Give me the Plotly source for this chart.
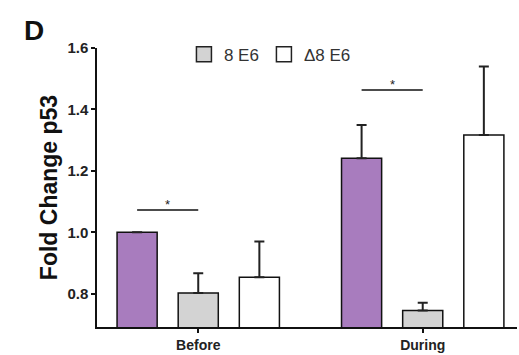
import plotly.graph_objects as go

# Data
groups = ["Before", "During"]
series_names = ["Control", "8 E6", "\u03948 E6"]
means_control = [1.00, 1.241]
err_control = [0.0, 0.108]
means_8e6 = [0.803, 0.746]
err_8e6 = [0.064, 0.025]
means_d8e6 = [0.854, 1.317]
err_d8e6 = [0.116, 0.223]
sig_heights = [1.073, 1.463]

fills = ["#a87cbe", "#d3d3d3", "#ffffff"]
means = [means_control, means_8e6, means_d8e6]
errs = [err_control, err_8e6, err_d8e6]

BARGAP = 0.183
BARGROUPGAP = 0.344
slot = (1 - BARGAP) / 3  # width of one trace slot within a group

FONT = "Liberation Sans, Arial, sans-serif"

fig = go.Figure()
for name, fill, m, e in zip(series_names, fills, means, errs):
    fig.add_trace(go.Bar(
        x=groups, y=m, name=name,
        marker=dict(color=fill, line=dict(color="#111111", width=1.5)),
        error_y=dict(type="data", array=e, arrayminus=[0] * len(e), symmetric=False,
                     color="#222222", thickness=2, width=5),
        showlegend=False,
    ))

# Legend entries (square swatches)
for name, fill in zip(series_names[1:], fills[1:]):
    fig.add_trace(go.Scatter(
        x=[None], y=[None], mode="markers", name=name,
        marker=dict(symbol="square", size=15, color=fill,
                    line=dict(color="#222222", width=1.5)),
        showlegend=True,
    ))

# Significance bars between control and 8 E6 in each group
for i, h in enumerate(sig_heights):
    fig.add_shape(type="line", xref="x", yref="y",
                  x0=i - slot, x1=i, y0=h, y1=h,
                  line=dict(color="#111111", width=1.5))
    fig.add_annotation(x=i - slot / 2, y=h, text="*", showarrow=False,
                       yanchor="bottom", yshift=-4,
                       font=dict(family=FONT, size=13, color="#222222"))

fig.add_annotation(xref="paper", yref="paper", x=-0.178, y=1.063,
                   xanchor="left", yanchor="middle", text="<b>D</b>",
                   showarrow=False, font=dict(family=FONT, size=28, color="#111111"))

fig.update_layout(
    width=519, height=355,
    margin=dict(l=97, r=2, t=48, b=21),
    paper_bgcolor="white", plot_bgcolor="white",
    barmode="group", bargap=BARGAP, bargroupgap=BARGROUPGAP,
    font=dict(family=FONT, color="#222222"),
    legend=dict(orientation="h", x=0.207, y=0.976, xanchor="left", yanchor="middle",
                font=dict(family=FONT, size=17, color="#333333"),
                itemsizing="trace", bgcolor="rgba(0,0,0,0)",
                tracegroupgap=0, itemwidth=30),
    xaxis=dict(range=[-0.451, 1.42], showline=True, linecolor="#111111", linewidth=1.5,
               ticks="outside", ticklen=4, tickcolor="#111111", tickwidth=1.5,
               tickfont=dict(family=FONT, size=14, color="#222222"),
               showgrid=False, zeroline=False,
               tickvals=groups, ticktext=["<b>%s</b>" % g for g in groups]),
    yaxis=dict(range=[0.692, 1.6], showline=True, linecolor="#111111", linewidth=1.5,
               ticks="outside", ticklen=4, tickcolor="#111111", tickwidth=1.5,
               tickvals=[0.8, 1.0, 1.2, 1.4, 1.6],
               ticktext=["<b>0.8</b>", "<b>1.0</b>", "<b>1.2</b>", "<b>1.4</b>", "<b>1.6</b>"],
               tickfont=dict(family=FONT, size=15, color="#222222"),
               showgrid=False, zeroline=False,
               title=dict(text="<b>Fold Change p53</b>", standoff=3,
                          font=dict(family=FONT, size=23, color="#111111"))),
)

fig.write_html("out.html")
